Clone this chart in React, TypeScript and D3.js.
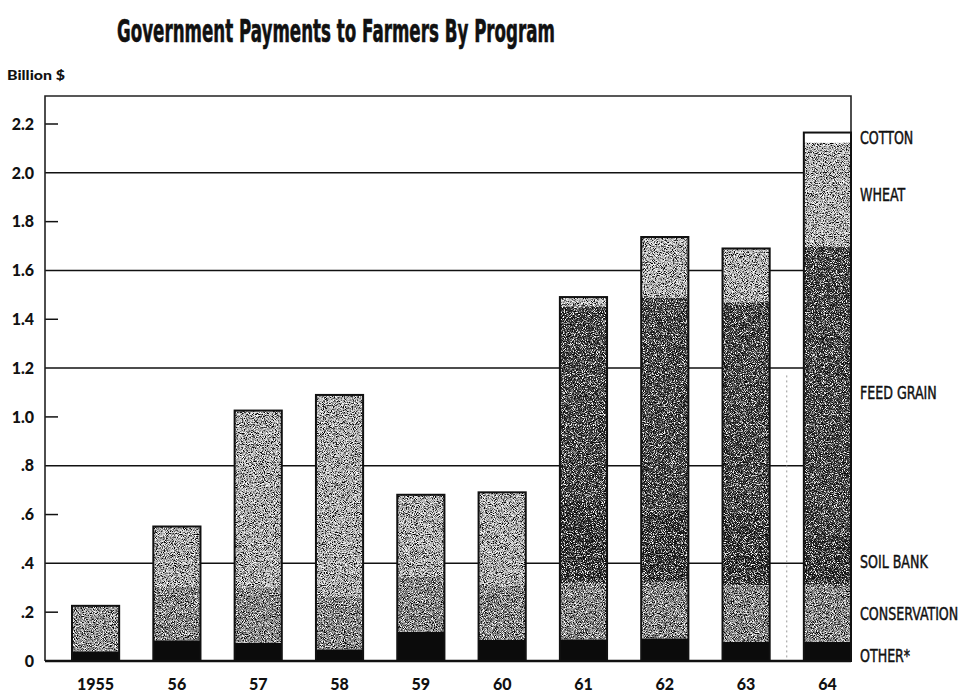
import React from "react";
import * as d3 from "d3";

const years = ["1955", "56", "57", "58", "59", "60", "61", "62", "63", "64"];
const other = [0.04, 0.085, 0.075, 0.048, 0.12, 0.086, 0.089, 0.093, 0.078, 0.079];
const conservation = [0.186, 0.219, 0.226, 0.215, 0.225, 0.222, 0.228, 0.231, 0.233, 0.233];
const soilBank = [0, 0.247, 0.725, 0.827, 0.336, 0.383, 0.343, 0.296, 0.299, 0.188];
const feedGrain = [0, 0, 0, 0, 0, 0, 0.793, 0.869, 0.86, 1.197];
const wheat = [0, 0, 0, 0, 0, 0, 0.038, 0.248, 0.22, 0.427];
const cotton = [0, 0, 0, 0, 0, 0, 0, 0, 0, 0.041];

const seriesKeys = ["other", "conservation", "soilBank", "feedGrain", "wheat", "cotton"];
const seriesLabels = ["OTHER*", "CONSERVATION", "SOIL BANK", "FEED GRAIN", "WHEAT", "COTTON"];
const yTickValues = [0, 0.2, 0.4, 0.6, 0.8, 1.0, 1.2, 1.4, 1.6, 1.8, 2.0, 2.2];
const yTickLabels = ["0", ".2", ".4", ".6", ".8", "1.0", "1.2", "1.4", "1.6", "1.8", "2.0", "2.2"];
const gridValues = [0.4, 0.8, 1.2, 1.6, 2.0];

const W = 966;
const H = 692;
const LEFT = 45;
const RIGHT = 851;
const TOP = 96;
const BASE = 661;

const table = years.map((yr, i) => ({
  year: yr,
  other: other[i],
  conservation: conservation[i],
  soilBank: soilBank[i],
  feedGrain: feedGrain[i],
  wheat: wheat[i],
  cotton: cotton[i],
}));

function fillFor(key: string, d: any): string {
  switch (key) {
    case "other": return "#0b0b0b";
    case "conservation": return d.data.soilBank === 0 ? "#9a9a9a" : "#858585";
    case "soilBank": return d.data.feedGrain > 0 ? "#2a2a2a" : "#b3b3b3";
    case "feedGrain": return "#3a3a3a";
    case "wheat": return "#bababa";
    default: return "#ffffff";
  }
}

export default function App() {
  const x = d3.scaleBand<string>().domain(years).range([72, RIGHT]).paddingInner(0.42).paddingOuter(0);
  const y = d3.scaleLinear().domain([0, 2.2]).range([BASE, 124]);
  const stack = d3.stack<any>().keys(seriesKeys);
  const series = stack(table as any);
  const bw = x.bandwidth();
  const last = years[years.length - 1];
  const dotX = ((x(years[8]) as number) + bw + (x(last) as number)) / 2;
  const labelFont = "'Liberation Sans Narrow', 'DejaVu Sans Condensed', sans-serif";
  const numFont = "Lato, 'Open Sans', sans-serif";

  return (
    <svg width={W} height={H} style={{ position: "absolute", left: 0, top: 0, background: "#fff" }}>
      <defs>
        <filter id="stipple" x="0" y="0" width="100%" height="100%" colorInterpolationFilters="sRGB">
          <feTurbulence type="fractalNoise" baseFrequency="1.1" numOctaves={2} seed={7} result="n" />
          <feColorMatrix in="n" type="matrix"
            values="2.4 0 0 0 -0.7  2.4 0 0 0 -0.7  2.4 0 0 0 -0.7  0 0 0 0 1" result="g" />
          <feBlend in="g" in2="SourceGraphic" mode="hard-light" result="b" />
          <feComposite in="b" in2="SourceAlpha" operator="in" />
        </filter>
      </defs>

      {/* Title */}
      <text x={117} y={42} fontFamily={labelFont} fontWeight={900} fontSize={32}
        textLength={438} lengthAdjust="spacingAndGlyphs" fill="#111" stroke="#111" strokeWidth={0.6}>
        Government Payments to Farmers By Program
      </text>
      <text x={7} y={80} fontFamily={numFont} fontWeight={900} fontSize={13} fill="#111"
        textLength={58} lengthAdjust="spacingAndGlyphs">
        Billion $
      </text>

      {/* Grid lines */}
      {gridValues.map((v) => (
        <line key={"g" + v} x1={LEFT} x2={RIGHT} y1={y(v)} y2={y(v)} stroke="#111" strokeWidth={1.5} />
      ))}
      {/* short ticks */}
      {yTickValues.filter((v) => v > 0 && !gridValues.includes(v)).map((v) => (
        <line key={"t" + v} x1={LEFT} x2={LEFT + 13} y1={y(v)} y2={y(v)} stroke="#111" strokeWidth={1.5} />
      ))}

      {/* Frame */}
      <path d={`M${LEFT},${BASE} V${TOP} H${RIGHT} V${BASE}`} fill="none" stroke="#222" strokeWidth={1.6} />

      {/* faint dotted divider */}
      <line x1={dotX} x2={dotX} y1={y(1.17)} y2={BASE} stroke="#999" strokeWidth={1} strokeDasharray="2,3" />

      {/* Bars */}
      {series.map((s: any) => (
        <g key={s.key}>
          {s.map((d: any, i: number) => {
            const h = y(d[0]) - y(d[1]);
            if (h <= 0) return null;
            const f = fillFor(s.key, d);
            const textured = s.key !== "other" && s.key !== "cotton";
            return (
              <rect key={i} x={x(years[i])} y={y(d[1])} width={bw} height={h} fill={f}
                filter={textured ? "url(#stipple)" : undefined} />
            );
          })}
        </g>
      ))}
      {/* Bar outlines */}
      {table.map((d, i) => {
        const total = seriesKeys.reduce((a, k) => a + (d as any)[k], 0);
        return (
          <rect key={"o" + i} x={x(d.year)} y={y(total)} width={bw} height={BASE - y(total)}
            fill="none" stroke="#111" strokeWidth={2} />
        );
      })}

      {/* Baseline */}
      <line x1={LEFT} x2={RIGHT} y1={BASE} y2={BASE} stroke="#111" strokeWidth={2.5} />

      {/* Y tick labels */}
      {yTickValues.map((v, i) => (
        <text key={"yl" + v} x={34} y={y(v)} dy="0.36em" textAnchor="end" fontFamily={numFont}
          fontWeight={900} fontSize={16} fill="#111">
          {yTickLabels[i]}
        </text>
      ))}

      {/* X labels */}
      {years.map((yr) => (
        <text key={"xl" + yr} x={(x(yr) as number) + bw / 2} y={690} textAnchor="middle"
          fontFamily={numFont} fontWeight={900} fontSize={16} fill="#111">
          {yr}
        </text>
      ))}

      {/* Series labels next to last bar */}
      {series.map((s: any, si: number) => {
        const d = s[s.length - 1];
        const cy = (y(d[0]) + y(d[1])) / 2 + (s.key === "other" ? 4 : 0);
        return (
          <text key={"lab" + s.key} transform={`translate(860,${cy}) scale(0.78,1)`} dy="0.36em"
            fontFamily={labelFont} fontSize={18} fill="#111" stroke="#111" strokeWidth={0.45}>
            {seriesLabels[si]}
          </text>
        );
      })}
    </svg>
  );
}
